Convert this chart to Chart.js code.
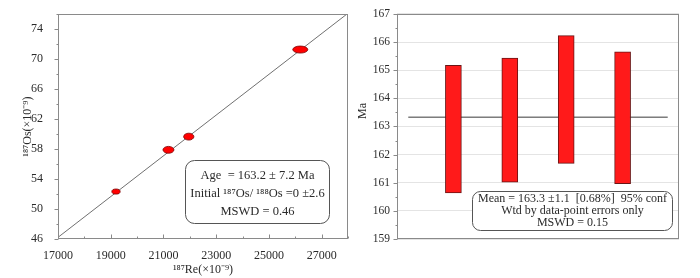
<!DOCTYPE html>
<html><head><meta charset="utf-8">
<script src="https://cdn.jsdelivr.net/npm/chart.js@4/dist/chart.umd.min.js"></script>
<style>
html,body{margin:0;padding:0;background:#fff;}
#wrap{position:relative;width:700px;height:278px;overflow:hidden;}
canvas{position:absolute;top:0;}
#c1{left:0;} #c2{left:350px;}
</style></head><body>
<div id="wrap"><canvas id="c1" width="350" height="278"></canvas><canvas id="c2" width="350" height="278"></canvas></div>
<script>
// ---- Left panel: Re-Os isochron ----
const reX   = [19200, 21190, 21960, 26190];   // 187Re (x10^-9)
const osY   = [52.33, 57.90, 59.66, 71.28];   // 187Os (x10^-9)
const reErr = [157, 208, 195, 285];           // half-axis of error ellipse (Re)
const osErr = [0.34, 0.46, 0.46, 0.47];       // half-axis of error ellipse (Os)
const isoX  = [17000, 28000];                 // isochron end points
const isoY  = [46.22, 76.13];
const xTicksLeft = [17000, 19000, 21000, 23000, 25000, 27000];
const yTicksLeft = [46, 50, 54, 58, 62, 66, 70, 74];
const leftBoxLines = ['Age  = 163.2 ± 7.2 Ma', 'Initial ¹⁸⁷Os/ ¹⁸⁸Os =0 ±2.6', 'MSWD = 0.46'];

// ---- Right panel: weighted mean ----
const sampleIdx = [1, 2, 3, 4];
const ageLow  = [160.64, 161.02, 161.69, 160.97];
const ageHigh = [165.17, 165.43, 166.23, 165.65];
const meanAge = 163.33;
const meanSpan = [0.2, 4.8];
const yTicksRight = [159, 160, 161, 162, 163, 164, 165, 166, 167];
const rightBoxLines = ['Mean = 163.3 ±1.1  [0.68%]  95% conf', 'Wtd by data-point errors only', 'MSWD = 0.15'];

const SERIF = "'Liberation Serif','Times New Roman',serif";
const TXT = '#2a2a2a';
const AXC = '#8a8a8a';

function roundRect(ctx, x, y, w, h, r) {
  ctx.beginPath();
  ctx.moveTo(x + r, y);
  ctx.lineTo(x + w - r, y); ctx.arcTo(x + w, y, x + w, y + r, r);
  ctx.lineTo(x + w, y + h - r); ctx.arcTo(x + w, y + h, x + w - r, y + h, r);
  ctx.lineTo(x + r, y + h); ctx.arcTo(x, y + h, x, y + h - r, r);
  ctx.lineTo(x, y + r); ctx.arcTo(x, y, x + r, y, r);
  ctx.closePath();
}

const leftPlugin = {
  id: 'leftDeco',
  afterDatasetsDraw(chart) {
    const ctx = chart.ctx, xs = chart.scales.x, ys = chart.scales.y, a = chart.chartArea;
    ctx.save();
    ctx.beginPath(); ctx.rect(a.left, a.top, a.right - a.left, a.bottom - a.top); ctx.clip();
    for (let i = 0; i < reX.length; i++) {
      const cx = xs.getPixelForValue(reX[i]), cy = ys.getPixelForValue(osY[i]);
      const rx = Math.abs(xs.getPixelForValue(reX[i] + reErr[i]) - cx);
      const ry = Math.abs(ys.getPixelForValue(osY[i] + osErr[i]) - cy);
      ctx.beginPath(); ctx.ellipse(cx, cy, rx, ry, 0, 0, Math.PI * 2);
      ctx.fillStyle = '#ff0000'; ctx.fill();
      ctx.lineWidth = 0.8; ctx.strokeStyle = '#7a0000'; ctx.stroke();
    }
    ctx.restore();
    ctx.save();
    ctx.strokeStyle = AXC; ctx.lineWidth = 1;
    ctx.strokeRect(Math.round(a.left) + 0.5, Math.round(a.top) + 0.5, Math.round(a.right - a.left) - 1, Math.round(a.bottom - a.top) - 1);
    ctx.beginPath();
    const lx = Math.round(a.left) + 0.5;
    for (let v = 46; v <= 76; v += 2) {
      const y = Math.round(ys.getPixelForValue(v)) + 0.5;
      const len = (v - 46) % 4 === 0 ? 4 : 2;
      ctx.moveTo(lx - len, y); ctx.lineTo(lx, y);
    }
    const by = Math.round(a.bottom) - 0.5;
    for (let v = 17000; v <= 28000; v += 1000) {
      const x = Math.round(xs.getPixelForValue(v)) + 0.5;
      const len = (v - 17000) % 2000 === 0 ? 4 : 2;
      ctx.moveTo(x, by); ctx.lineTo(x, by - len);
    }
    ctx.stroke();
    const bw = 144, bh = 63;
    const bx = Math.round(a.right) - 19 - bw + 0.5, byy = Math.round(a.bottom) - 16 - bh + 0.5;
    roundRect(ctx, bx, byy, bw, bh, 9);
    ctx.fillStyle = '#fff'; ctx.fill();
    ctx.strokeStyle = '#555'; ctx.lineWidth = 1; ctx.stroke();
    ctx.fillStyle = TXT; ctx.font = '12.5px ' + SERIF; ctx.textAlign = 'center'; ctx.textBaseline = 'middle';
    leftBoxLines.forEach((t, i) => ctx.fillText(t, bx + bw / 2, byy + 15 + i * 18));
    ctx.restore();
  }
};

new Chart(document.getElementById('c1'), {
  type: 'scatter',
  data: { datasets: [
    { type: 'line', data: isoX.map((x, i) => ({ x, y: isoY[i] })), borderColor: '#707070', borderWidth: 1, pointRadius: 0, fill: false, order: 2 },
    { type: 'scatter', data: reX.map((x, i) => ({ x, y: osY[i] })), pointRadius: 0, order: 1 }
  ]},
  options: {
    responsive: false, animation: false, events: [],
    plugins: { legend: { display: false }, tooltip: { enabled: false } },
    layout: { padding: { top: 4, right: 2, left: 0, bottom: 0 } },
    scales: {
      x: { type: 'linear', min: 17000, max: 28000,
        afterBuildTicks: s => { s.ticks = xTicksLeft.map(v => ({ value: v })); },
        afterFit: s => { s.height = 39; },
        grid: { display: false }, border: { display: false },
        ticks: { font: { family: SERIF, size: 12 }, color: TXT, padding: 2, maxRotation: 0, autoSkip: false, callback: v => String(v) },
        title: { display: true, text: '¹⁸⁷Re(×10⁻⁹)', font: { family: SERIF, size: 12 }, color: TXT, padding: { top: 0, bottom: 1 } } },
      y: { type: 'linear', min: 46, max: 76,
        afterBuildTicks: s => { s.ticks = yTicksLeft.map(v => ({ value: v })); },
        afterFit: s => { s.width = 58; },
        grid: { display: false }, border: { display: false },
        ticks: { font: { family: SERIF, size: 12 }, color: TXT, padding: 7, autoSkip: false, callback: v => String(v) },
        title: { display: true, text: '¹⁸⁷Os(×10⁻⁹)', font: { family: SERIF, size: 12 }, color: TXT, padding: { top: 21, bottom: 0 } } }
    }
  },
  plugins: [leftPlugin]
});

const rightPlugin = {
  id: 'rightDeco',
  afterDraw(chart) {
    const ctx = chart.ctx, ys = chart.scales.y, a = chart.chartArea;
    ctx.save();
    ctx.strokeStyle = AXC; ctx.lineWidth = 1;
    ctx.strokeRect(Math.round(a.left) + 0.5, Math.round(a.top) + 0.5, Math.round(a.right - a.left) - 1, Math.round(a.bottom - a.top) - 1);
    ctx.beginPath();
    const lx = Math.round(a.left) + 0.5;
    for (let v = 159; v <= 167.001; v += 0.5) {
      const y = Math.round(ys.getPixelForValue(v)) + 0.5;
      const len = Math.abs(v - Math.round(v)) < 1e-6 ? 4 : 2;
      ctx.moveTo(lx - len, y); ctx.lineTo(lx, y);
    }
    ctx.stroke();
    const bw = 200, bh = 39;
    const bx = Math.round(a.right) - 7 - bw + 0.5, byy = Math.round(a.bottom) - 9 - bh + 0.5;
    roundRect(ctx, bx, byy, bw, bh, 8);
    ctx.fillStyle = '#fff'; ctx.fill();
    ctx.strokeStyle = '#555'; ctx.lineWidth = 1; ctx.stroke();
    ctx.fillStyle = TXT; ctx.font = '12px ' + SERIF; ctx.textAlign = 'center'; ctx.textBaseline = 'middle';
    rightBoxLines.forEach((t, i) => ctx.fillText(t, bx + bw / 2, byy + 7.5 + i * 12));
    ctx.translate(13, ys.getPixelForValue(163.55));
    ctx.rotate(-Math.PI / 2);
    ctx.font = '12px ' + SERIF; ctx.fillText('Ma', 0, 0);
    ctx.restore();
  }
};

new Chart(document.getElementById('c2'), {
  data: { datasets: [
    { type: 'bar', data: sampleIdx.map((x, i) => ({ x, y: [ageLow[i], ageHigh[i]] })),
      backgroundColor: '#ff1a1a', borderColor: '#6a1515', borderWidth: 1, borderSkipped: false, barThickness: 16, order: 1 },
    { type: 'line', data: meanSpan.map(x => ({ x, y: meanAge })), borderColor: '#3a3a3a', borderWidth: 1, pointRadius: 0, fill: false, order: 2 }
  ]},
  options: {
    responsive: false, animation: false, events: [],
    plugins: { legend: { display: false }, tooltip: { enabled: false } },
    layout: { padding: { top: 5, right: 21, left: 0, bottom: 39 } },
    scales: {
      x: { type: 'linear', min: 0, max: 5, display: false, offset: false },
      y: { type: 'linear', min: 159, max: 167,
        afterBuildTicks: s => { s.ticks = yTicksRight.map(v => ({ value: v })); },
        afterFit: s => { s.width = 47; },
        grid: { display: true, color: '#e4e4e4', drawTicks: false },
        border: { display: false },
        ticks: { font: { family: SERIF, size: 11.5 }, color: TXT, padding: 7, autoSkip: false, callback: v => String(v) } }
    }
  },
  plugins: [rightPlugin]
});
</script>
</body></html>
